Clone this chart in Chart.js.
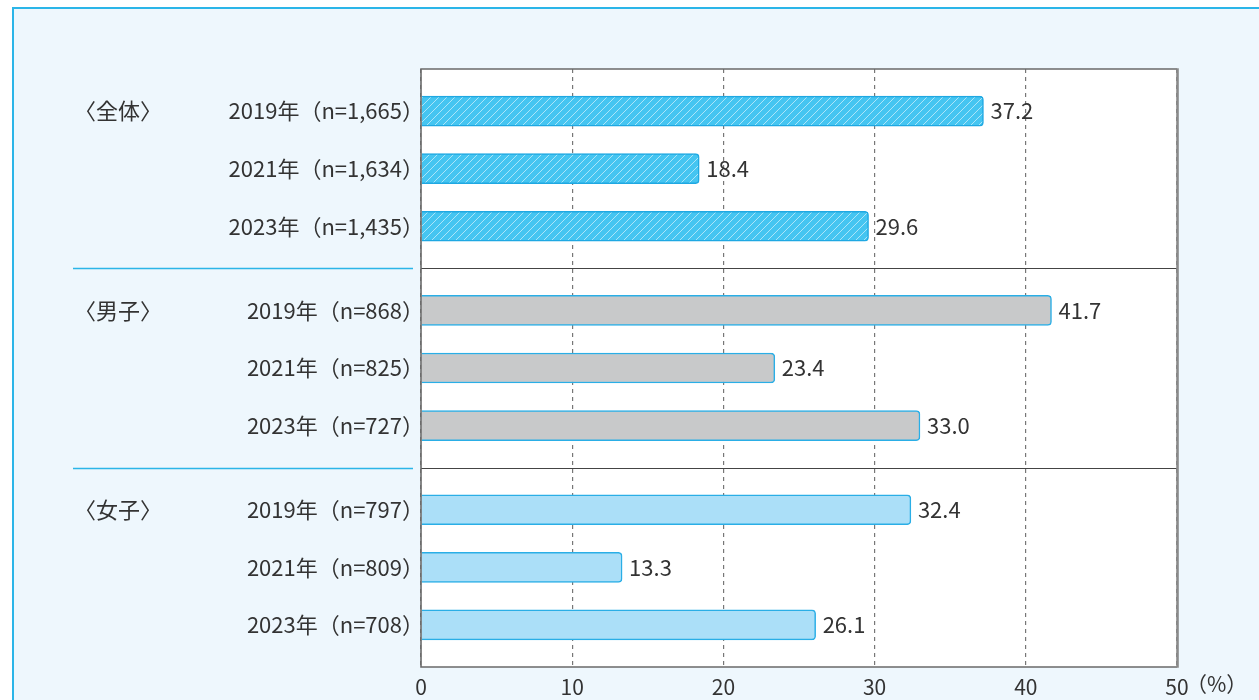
<!DOCTYPE html>
<html lang="ja">
<head>
<meta charset="utf-8">
<script src="https://cdn.jsdelivr.net/npm/chart.js@4.4.1/dist/chart.umd.min.js"></script>
<style>
  html, body { margin: 0; padding: 0; background: #ffffff; overflow: hidden; }
  #box { position: absolute; left: 12px; top: 7px; width: 1400px; height: 900px;
         border: 2px solid #2bb5e8; background: #eef7fd; }
  #wrap { position: absolute; left: 0; top: 0; width: 1259px; height: 700px; }
</style>
</head>
<body>
<div id="box"></div>
<div id="wrap"><canvas id="c" width="1259" height="700"></canvas></div>
<script>
// ---- data ----
const groupTitles = ['〈全体〉', '〈男子〉', '〈女子〉'];
const labelsAll = ['2019年（n=1,665）', '2021年（n=1,634）', '2023年（n=1,435）'];
const labelsBoys = ['2019年（n=868）', '2021年（n=825）', '2023年（n=727）'];
const labelsGirls = ['2019年（n=797）', '2021年（n=809）', '2023年（n=708）'];
const valuesAll = [37.2, 18.4, 29.6];
const valuesBoys = [41.7, 23.4, 33.0];
const valuesGirls = [32.4, 13.3, 26.1];
const xTicks = [0, 10, 20, 30, 40, 50];
const unitLabel = '（%）';

const FONT = '"Noto Sans CJK JP", "Noto Sans", sans-serif';
const TEXT = '#333333';

// hatch pattern for 全体
function hatch() {
  const s = 8;
  const cv = document.createElement('canvas');
  cv.width = s; cv.height = s;
  const g = cv.getContext('2d');
  g.fillStyle = '#45c5f1';
  g.fillRect(0, 0, s, s);
  g.strokeStyle = 'rgba(255,255,255,0.55)';
  g.lineWidth = 1;
  g.beginPath();
  g.moveTo(-1, s + 1); g.lineTo(s + 1, -1);
  g.moveTo(-1, 1); g.lineTo(1, -1);
  g.moveTo(s - 1, s + 1); g.lineTo(s + 1, s - 1);
  g.stroke();
  return g.createPattern(cv, 'repeat');
}

const groups = [
  { title: groupTitles[0], labels: labelsAll, values: valuesAll, fill: hatch(), border: '#1fa8e2' },
  { title: groupTitles[1], labels: labelsBoys, values: valuesBoys, fill: '#c8c9ca', border: '#2aaee6' },
  { title: groupTitles[2], labels: labelsGirls, values: valuesGirls, fill: '#abdff8', border: '#2aaee6' }
];

const datasets = groups.map((g, gi) => ({
  label: g.title,
  data: g.values.map((v, i) => ({ x: v, y: i })),
  yAxisID: 'y' + gi,
  xAxisID: 'x',
  backgroundColor: g.fill,
  borderColor: g.border,
  borderWidth: 1.5,
  borderRadius: 4,
  borderSkipped: 'start',
  barThickness: 30,
  grouped: false
}));

const scales = {
  x: {
    type: 'linear', position: 'bottom', min: 0, max: 50,
    afterBuildTicks: (ax) => { ax.ticks = xTicks.map(v => ({ value: v })); },
    ticks: { color: TEXT, font: { family: FONT, size: 21 }, padding: 7 },
    grid: { color: '#777777', lineWidth: 1.2, drawTicks: false, tickLength: 0 },
    border: { display: false, dash: [4, 4] },
    afterFit: (ax) => { ax.height = 33; }
  }
};
groups.forEach((g, gi) => {
  scales['y' + gi] = {
    type: 'linear', position: 'left', stack: 'grp', stackWeight: 1, weight: 3 - gi,
    reverse: true, min: -0.73, max: 2.73, offset: false,
    afterBuildTicks: (ax) => { ax.ticks = g.labels.map((_, i) => ({ value: i })); },
    ticks: {
      color: TEXT, font: { family: FONT, size: 22 }, padding: -3, autoSkip: false,
      callback: (v) => g.labels[v]
    },
    grid: { display: false, drawTicks: false },
    border: { display: false },
    afterFit: (ax) => { ax.width = 421; }
  };
});

const decor = {
  id: 'decor',
  beforeDraw(chart) {
    const { ctx, chartArea: a } = chart;
    ctx.save();
    ctx.fillStyle = '#ffffff';
    ctx.fillRect(a.left, a.top, a.right - a.left, a.bottom - a.top);
    ctx.restore();
  },
  afterDatasetsDraw(chart) {
    const { ctx, chartArea: a } = chart;
    ctx.save();
    // separators between groups
    [0, 1].forEach(gi => {
      const ax = chart.scales['y' + gi];
      const y = Math.round(ax.bottom) + 0.5;
      ctx.strokeStyle = '#444444'; ctx.lineWidth = 1;
      ctx.beginPath(); ctx.moveTo(a.left, y); ctx.lineTo(a.right, y); ctx.stroke();
      ctx.strokeStyle = '#2bb5e8'; ctx.lineWidth = 1.3;
      ctx.beginPath(); ctx.moveTo(73, y); ctx.lineTo(413, y); ctx.stroke();
    });
    // frame
    ctx.strokeStyle = '#6a6a6a'; ctx.lineWidth = 1.6;
    ctx.beginPath();
    ctx.moveTo(a.right, a.top); ctx.lineTo(a.left, a.top); ctx.lineTo(a.left, a.bottom); ctx.lineTo(a.right, a.bottom);
    ctx.stroke();
    ctx.strokeStyle = '#8a8a8a'; ctx.lineWidth = 2.6;
    ctx.beginPath(); ctx.moveTo(a.right + 0.5, a.top - 0.8); ctx.lineTo(a.right + 0.5, a.bottom + 0.8); ctx.stroke();

    // value labels
    ctx.fillStyle = TEXT;
    ctx.font = '22px ' + FONT;
    ctx.textAlign = 'left'; ctx.textBaseline = 'middle';
    chart.data.datasets.forEach((ds, di) => {
      const meta = chart.getDatasetMeta(di);
      meta.data.forEach((bar, i) => {
        ctx.fillText(groups[di].values[i].toFixed(1), bar.x + 7, bar.y);
      });
    });
    // group titles
    groups.forEach((g, gi) => {
      const ax = chart.scales['y' + gi];
      ctx.fillText(g.title, 74, ax.getPixelForValue(0));
    });
    // unit
    const xs = chart.scales.x;
    ctx.font = '21px ' + FONT;
    ctx.textBaseline = 'top';
    ctx.fillText(unitLabel, xs.getPixelForValue(xTicks[xTicks.length - 1]) + 9, a.bottom + 7);
    ctx.restore();
  }
};

new Chart(document.getElementById('c'), {
  type: 'bar',
  data: { datasets },
  options: {
    indexAxis: 'y',
    responsive: false,
    devicePixelRatio: 1,
    animation: false,
    layout: { padding: { left: 0, right: 82, top: 69, bottom: 0 } },
    plugins: { legend: { display: false }, tooltip: { enabled: false } },
    scales
  },
  plugins: [decor]
});
</script>
</body>
</html>
